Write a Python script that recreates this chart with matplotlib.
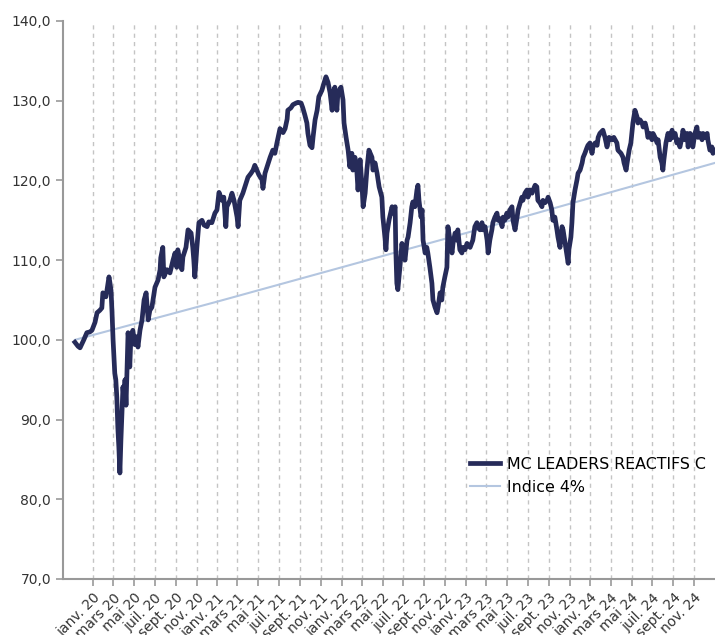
import pandas as pd
import matplotlib
matplotlib.use('Agg')
import matplotlib.pyplot as plt
from matplotlib.ticker import FuncFormatter

# days counted from 2020-01-01
start = pd.Timestamp('2020-01-01')
days = [-52, -43, -37, -26, -17, -8, -2, 7, 13, 21, 27, 30, 39, 42, 48, 51, 54, 57, 60, 65,
        68, 71, 74, 77, 80, 83, 86, 89, 92, 95, 98, 101, 104, 107, 109, 112, 118, 124, 130, 133,
        139, 145, 151, 157, 163, 168, 174, 183, 192, 198, 200, 206, 209, 218,
        227, 236, 242, 247, 250, 256, 262, 265, 274, 280, 289, 294, 297, 300, 306, 312, 321, 327, 336, 341,
        350, 359, 365, 371, 380, 385, 391, 394, 403, 409, 415, 424, 427, 432, 441, 447, 456, 465, 471, 476,
        482, 488, 497, 500, 506, 512, 521, 529, 535, 541, 550, 559, 565, 571, 573,
        582, 588, 597, 603, 612, 617, 623, 629, 632, 638, 644, 647, 653, 659, 664, 673, 679, 685, 691, 697,
        703, 706, 711, 717, 720, 729, 735, 738, 744, 750, 755, 761, 764, 770, 776, 779, 785, 791, 794, 800,
        805, 811, 820, 823, 829, 835, 841, 849, 852, 858, 861, 864, 870, 879, 882, 888,
        890, 893, 896, 902, 908, 911, 917, 923, 926, 932, 937, 940, 946, 952, 955, 958, 964, 967, 970, 976,
        981, 984, 990, 996, 999, 1005, 1011, 1014, 1020, 1025, 1028, 1034, 1040, 1043, 1049, 1055, 1058, 1064, 1070, 1072,
        1078, 1084, 1087, 1093, 1099, 1108, 1116, 1122, 1128, 1131, 1137, 1143, 1146, 1152, 1158, 1161, 1166, 1172, 1175, 1181,
        1187, 1190,
        1196, 1202, 1205, 1210, 1216, 1219, 1225, 1231, 1234, 1240, 1246, 1249, 1255, 1260, 1263, 1269, 1275, 1278, 1284, 1290,
        1293, 1299, 1304, 1307, 1313, 1319, 1322, 1328, 1334, 1337, 1343, 1348, 1351, 1357, 1363, 1366, 1372, 1378, 1381, 1387,
        1393, 1396, 1398, 1404, 1407, 1410, 1416, 1422, 1425, 1431, 1437, 1440, 1445, 1451, 1454, 1460, 1466, 1469, 1475, 1481,
        1484, 1489,
        1498, 1504, 1510, 1516, 1525, 1530, 1539, 1542, 1551, 1557, 1560, 1566, 1569, 1575, 1580, 1583, 1586, 1592, 1598, 1601,
        1607, 1613, 1616, 1622, 1627, 1630, 1636, 1642, 1645, 1651, 1657, 1660, 1666, 1671, 1674, 1677, 1683, 1689, 1695, 1701,
        1704, 1710, 1715, 1718, 1724, 1730, 1733, 1739, 1745, 1748, 1754, 1759, 1762, 1768, 1774, 1777, 1783, 1789, 1792, 1798,
        1804, 1806, 1812, 1818, 1821, 1825]
nav = [99.7, 99.2, 99.0, 100.0, 100.9, 101.0, 101.2, 102.2, 103.4, 103.7, 104.0, 105.9, 105.4, 106.2, 107.9, 107.1, 106.2, 103.4, 100.0, 95.8,
       95.0, 92.8, 89.0, 86.5, 83.3, 87.4, 90.8, 94.1, 92.5, 95.0, 91.8, 96.2, 100.9, 99.4, 96.6, 100.0, 101.2, 99.4, 100.4, 99.1,
       101.2, 102.5, 105.0, 105.9, 102.5, 103.7, 104.1, 106.6, 107.5, 108.8, 110.3, 111.6, 107.9, 108.8,
       108.4, 110.0, 110.9, 109.1, 111.3, 110.0, 108.8, 110.4, 111.6, 113.8, 113.4, 111.6, 110.0, 107.9, 111.6, 114.7, 115.0, 114.4, 114.2, 114.8,
       114.7, 115.9, 116.3, 118.5, 117.5, 117.9, 114.2, 116.7, 117.5, 118.4, 117.5, 115.4, 114.2, 117.5, 118.4, 119.2, 120.4, 120.9, 121.3, 121.9,
       121.3, 120.7, 120.1, 119.0, 120.9, 121.7, 122.9, 123.8, 123.4, 124.7, 126.5, 126.0, 126.5, 127.7, 128.8,
       129.1, 129.5, 129.7, 129.8, 129.7, 129.1, 128.2, 127.2, 125.9, 124.4, 124.1, 125.4, 127.6, 128.8, 130.5, 131.3, 132.2, 133.0, 132.3, 131.0,
       128.8, 131.0, 131.7, 128.8, 131.0, 131.7, 130.1, 127.2, 125.4, 123.8, 121.7, 123.4, 121.3, 122.9, 120.9, 118.8, 122.6, 119.2, 116.7, 118.4,
       121.3, 123.8, 122.9, 121.3, 122.2, 120.9, 119.2, 117.9, 115.4, 112.9, 111.3, 113.4, 115.0, 116.7, 115.9, 116.7,
       111.3, 107.1, 106.3, 109.1, 112.1, 110.9, 110.0, 112.5, 112.9, 114.7, 116.7, 117.3, 116.7, 118.8, 119.4, 117.5, 115.4, 116.3, 112.5, 110.9,
       111.6, 110.9, 109.1, 107.1, 105.0, 104.1, 103.4, 104.1, 105.9, 105.0, 106.6, 107.9, 109.1, 114.2, 112.5, 110.9, 112.1, 113.4, 112.5, 113.8,
       111.3, 110.9, 111.6, 111.3, 112.1, 111.6, 112.5, 114.2, 114.7, 114.2, 113.8, 114.7, 113.8, 114.2, 112.5, 110.9, 112.5, 113.8, 114.7, 115.4,
       115.9, 115.0,
       115.2, 114.2, 115.4, 115.0, 115.9, 115.4, 116.3, 116.7, 115.0, 113.8, 115.4, 116.3, 117.2, 117.9, 117.5, 118.4, 118.8, 117.9, 118.8, 118.4,
       118.8, 119.4, 119.2, 117.5, 117.2, 116.7, 117.5, 117.2, 117.5, 117.9, 117.2, 116.3, 115.0, 115.4, 113.8, 112.9, 111.6, 114.2, 113.8, 112.1,
       110.4, 109.6, 111.3, 112.9, 114.7, 117.2, 118.8, 120.1, 120.9, 121.3, 122.2, 122.9, 123.4, 124.1, 124.4, 124.7, 123.4, 124.2, 124.7, 124.4,
       125.4, 125.9,
       126.3, 125.4, 124.2, 125.4, 125.1, 125.4, 124.7, 123.8, 123.4, 122.9, 122.2, 121.3, 122.2, 123.8, 124.7, 125.9, 127.2, 128.8, 128.0, 127.2,
       127.6, 127.2, 126.7, 127.2, 126.3, 125.4, 125.9, 125.1, 125.9, 125.4, 124.7, 125.1, 122.9, 122.2, 121.3, 122.6, 124.7, 125.9, 125.1, 126.3,
       125.4, 125.9, 124.7, 125.1, 124.2, 125.4, 126.3, 125.1, 125.9, 124.2, 125.9, 124.7, 124.2, 125.9, 126.7, 125.4, 125.9, 125.1, 125.9, 125.4,
       125.9, 125.1, 123.8, 124.2, 123.4, 123.8]

index_days = [-52, 366, 731, 1096, 1461, 1827]
index_vals = [100.0, 104.8, 109.1, 113.4, 117.8, 122.2]

month_names = ['janv.', 'mars', 'mai', 'juil.', 'sept.', 'nov.']
tick_years = [2020, 2021, 2022, 2023, 2024]
yticks = [70, 80, 90, 100, 110, 120, 130, 140]

assert len(days) == len(nav)
dates = start + pd.to_timedelta(days, unit='D')
idx_dates = start + pd.to_timedelta(index_days, unit='D')

fig = plt.figure(figsize=(7.15, 6.35), dpi=100)
ax = fig.add_axes([63 / 715, 1 - 579 / 635, 1 - 63 / 715, 558 / 635])

ax.plot(idx_dates, index_vals, color='#b4c6e0', lw=1.5, label='Indice 4%', zorder=2)
ax.plot(dates, nav, color='#262b59', lw=3.4, label='MC LEADERS REACTIFS C', zorder=3,
        solid_joinstyle='round')

tick_dates = [pd.Timestamp(y, m, 1) for y in tick_years for m in (1, 3, 5, 7, 9, 11)]
tick_labels = [f'{month_names[i % 6]} {str(y)[2:]}' for i, y in
               enumerate(y for y in tick_years for _ in range(6))]
ax.set_xticks([d.to_pydatetime() for d in tick_dates])
ax.set_xticklabels(tick_labels, rotation=45, ha='right', rotation_mode='anchor')
ax.set_xlim((start - pd.Timedelta(days=87)).to_pydatetime(), (start + pd.Timedelta(days=1827)).to_pydatetime())

ax.set_yticks(yticks)
ax.set_ylim(70, 140)
ax.yaxis.set_major_formatter(FuncFormatter(lambda v, p: f'{v:.1f}'.replace('.', ',')))

ax.grid(axis='x', color='#c4c4c4', linestyle=(0, (3, 3)), lw=1)
for s in ['top', 'right']:
    ax.spines[s].set_visible(False)
for s in ['left', 'bottom']:
    ax.spines[s].set_color('#999999')
    ax.spines[s].set_linewidth(1.5)
ax.tick_params(axis='both', colors='#999999', labelcolor='#333333', labelsize=10, length=5, width=1.2)

handles, labels = ax.get_legend_handles_labels()
ax.legend(handles[::-1], labels[::-1], loc='upper left', bbox_to_anchor=(470 / 715, 1 - 457 / 635),
          bbox_transform=fig.transFigure, frameon=False, fontsize=11.4, borderpad=0, borderaxespad=0,
          handlelength=1.9, handletextpad=0.45, labelspacing=0.5)

plt.savefig('out.png', dpi=100)
